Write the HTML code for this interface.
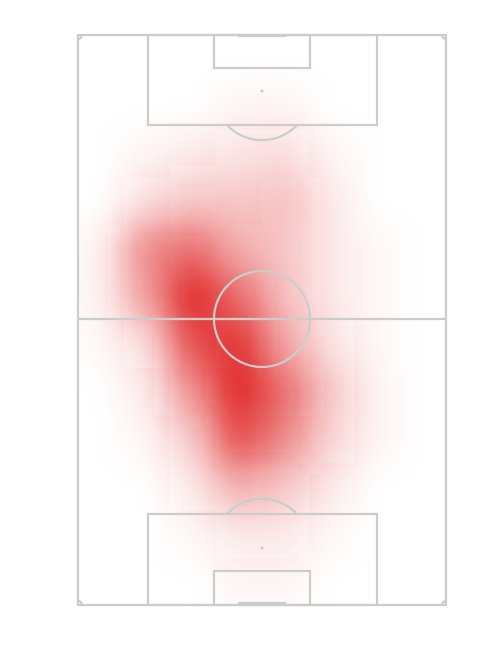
<!DOCTYPE html>
<html><head><meta charset="utf-8"><style>
html,body{margin:0;padding:0;background:#fff;}
svg{display:block;}
</style></head><body>
<svg width="500" height="650" viewBox="0 0 500 650">
<defs>
<filter id="blur" x="-20%" y="-20%" width="140%" height="140%"><feGaussianBlur stdDeviation="17"/></filter>
<clipPath id="pitchClip"><rect x="78" y="35" width="368" height="570"/></clipPath>
</defs>
<g id="heat" clip-path="url(#pitchClip)"><g id="heatInner" filter="url(#blur)"></g></g>
<g fill="none" stroke="#cccccc" stroke-width="2.2">
<rect x="78" y="35" width="368" height="570"/>
<line x1="78" y1="319" x2="446" y2="319"/>
<circle cx="262" cy="319" r="48"/>
<rect x="148" y="35" width="229" height="90"/>
<rect x="214" y="35" width="96" height="33"/>
<path d="M227 125 A48 48 0 0 0 297 125"/>
<rect x="148" y="514" width="229" height="91"/>
<rect x="214" y="571" width="96" height="34"/>
<path d="M227 514 A48 48 0 0 1 297 514"/>
<line x1="238" y1="36" x2="286" y2="36"/>
<line x1="238" y1="603" x2="286" y2="603"/>
<path d="M78 39 A4 4 0 0 0 82 35 M442 35 A4 4 0 0 0 446 39 M78 601 A4 4 0 0 1 82 605 M442 605 A4 4 0 0 1 446 601"/>
</g>
<circle cx="262" cy="91" r="1.5" fill="#cccccc"/>
<circle cx="262" cy="548" r="1.5" fill="#cccccc"/>
</svg>
<script>
const colCount = 8;
const rowCount = 12;
const intensity = [
[0,0,0,0,0,0,0,0],
[0,0,0,0.03,0.03,0,0,0],
[0,0.03,0.06,0.1,0.12,0.03,0,0],
[0,0.12,0.2,0.18,0.22,0.06,0,0],
[0.04,0.4,0.5,0.28,0.2,0.06,0.02,0],
[0.04,0.35,0.8,0.5,0.22,0.06,0.02,0],
[0.02,0.12,0.6,0.7,0.3,0.1,0.02,0],
[0,0.06,0.38,0.9,0.5,0.18,0.03,0],
[0,0.03,0.18,0.6,0.4,0.14,0.03,0],
[0,0,0.08,0.28,0.18,0.06,0,0],
[0,0,0.02,0.08,0.08,0.02,0,0],
[0,0,0,0.03,0.03,0,0,0]
];
const px0=78, py0=35, pw=368, ph=570;
const xScale = c => px0 + c*pw/colCount;
const yScale = r => py0 + r*ph/rowCount;
const g = document.getElementById('heatInner');
const NS='http://www.w3.org/2000/svg';
intensity.forEach((row,r)=>row.forEach((v,c)=>{
  if(v<=0) return;
  const el=document.createElementNS(NS,'rect');
  el.setAttribute('x',xScale(c));
  el.setAttribute('y',yScale(r));
  el.setAttribute('width',pw/colCount+0.5);
  el.setAttribute('height',ph/rowCount+0.5);
  el.setAttribute('fill','#e02828');
  el.setAttribute('fill-opacity',Math.min(1,v*1.35));
  
  
  g.appendChild(el);
}));
</script>
</body></html>
